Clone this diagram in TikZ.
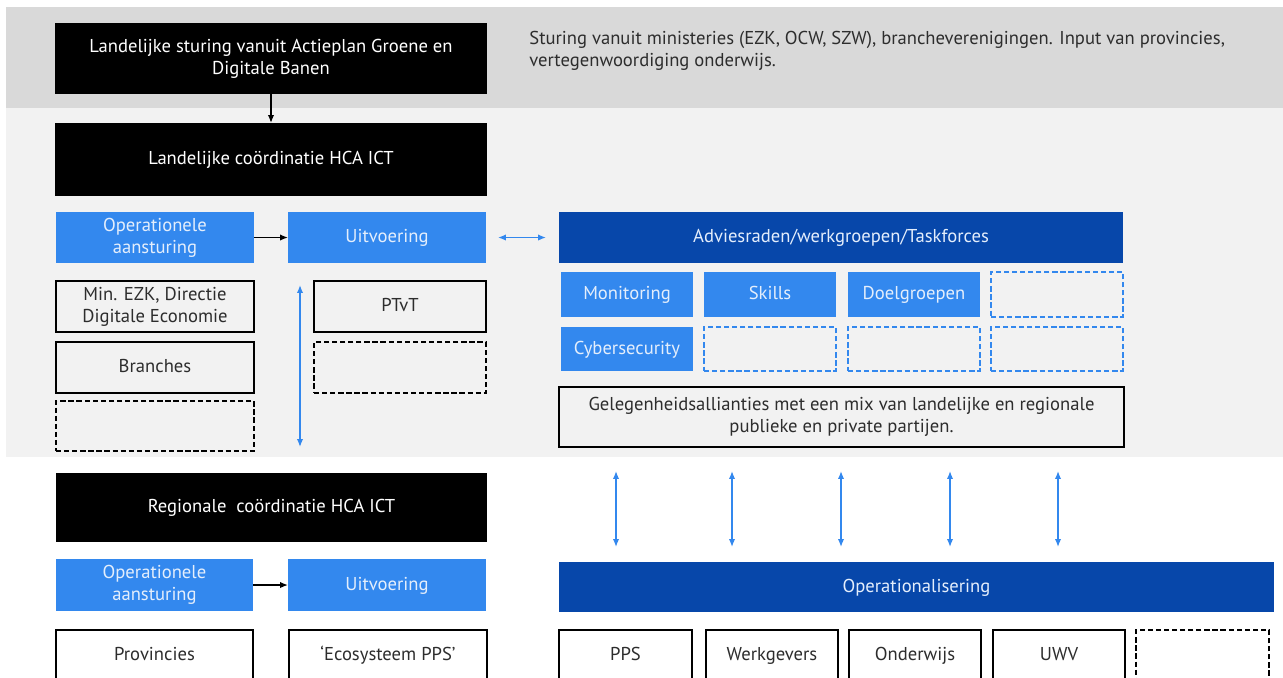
\documentclass[tikz,border=0pt]{standalone}
\usepackage{fontspec}
\setmainfont{PT Sans}
\usetikzlibrary{arrows.meta}

\definecolor{bandgrijs}{HTML}{D9D9D9}
\definecolor{bandlicht}{HTML}{F2F2F2}
\definecolor{hcablauw}{RGB}{51,136,238}
\definecolor{hcadonker}{RGB}{7,71,170}
\definecolor{tekstlicht}{RGB}{228,238,252}
\definecolor{tekstgrijs}{RGB}{45,45,45}

\tikzset{
  blok/.style={inner sep=0pt, outer sep=0pt, align=center},
  regel/.style={text height=1.55ex, text depth=0.4ex},
  maat/.style 2 args={minimum width=#1*0.02cm, minimum height=#2*0.02cm},
  zwartblok/.style={blok, fill=black, text=white},
  blauwblok/.style={blok, fill=hcablauw, text=tekstlicht},
  donkerblok/.style={blok, fill=hcadonker, text=tekstlicht},
  lijnblok/.style={blok, draw=black, line width=0.9pt, text=tekstgrijs},
  stippelblok/.style={blok, draw=black, line width=0.9pt, dash pattern=on 3pt off 1.6pt},
  blauwstippel/.style={blok, draw=hcablauw, line width=0.9pt, dash pattern=on 3pt off 1.6pt},
  zwartpijl/.style={line width=0.8pt, -{Latex[length=4.5pt,width=3.6pt]}},
  blauwpijl/.style={draw=hcablauw, line width=0.8pt, {Latex[length=4.5pt,width=3.6pt]}-{Latex[length=4.5pt,width=3.6pt]}},
}

\begin{document}
\begin{tikzpicture}[x=0.02cm, y=-0.02cm]
                \useasboundingbox (0,0) rectangle (1283,677);
                {\fontsize{10.6}{12.5}\selectfont

                % Drawing bands
                \fill [bandgrijs] (6,7) rectangle (1283,108);
                \fill [bandlicht] (6,108) rectangle (1283,457);

                % Drawing national steering
                \node [zwartblok, maat={432}{71}] (sturing) at (271,58.5) {Landelijke sturing vanuit Actieplan Groene en\\Digitale Banen};
                \node [anchor=west, align=left, inner sep=0pt, text=tekstgrijs] (toelichting) at (529,51) {Sturing vanuit ministeries (EZK, OCW, SZW), brancheverenigingen. Input van provincies,\\vertegenwoordiging onderwijs.};

                % Drawing national coordination
                \node [zwartblok, regel, maat={432}{73}] (landcoord) at (271,159.5) {Landelijke coördinatie HCA ICT};
                \draw [zwartpijl] (sturing) -- (landcoord);

                % Drawing row operational / execution
                \node [blauwblok, maat={198}{51}] (opsturing) at (155,237.5) {Operationele\\aansturing};
                \node [blauwblok, regel, maat={198}{51}] (uitvoering) at (387,237.5) {Uitvoering};
                \node [donkerblok, regel, maat={564}{51}] (advies) at (841,237.5) {Adviesraden/werkgroepen/Taskforces};
                \draw [zwartpijl] (opsturing) -- (uitvoering);
                \draw [blauwpijl, shorten <=0.24cm, shorten >=0.26cm] (uitvoering) -- (advies);

                % Drawing national parties
                \node [lijnblok, maat={198}{51}] (minezk) at (155,306.5) {Min. EZK, Directie\\Digitale Economie};
                \node [lijnblok, regel, maat={198}{51}] (branches) at (155,367.5) {Branches};
                \node [stippelblok, maat={198}{50}] (leeglinks) at (155,426) {};
                \node [lijnblok, regel, maat={172}{51}] (ptvt) at (400,306.5) {PTvT};
                \node [stippelblok, maat={172}{51}] (leegmidden) at (400,367.5) {};

                % Drawing arrow national - regional
                \coordinate (landboven) at (300,285);
                \coordinate (landonder) at (300,447);
                \draw [blauwpijl] (landboven) -- (landonder);

                % Drawing taskforces
                \node [blauwblok, regel, maat={132}{45}] (monitoring) at (627,294.5) {Monitoring};
                \node [blauwblok, regel, maat={132}{45}] (skills) at (770,294.5) {Skills};
                \node [blauwblok, regel, maat={132}{45}] (doelgroepen) at (914,294.5) {Doelgroepen};
                \node [blauwstippel, maat={132}{45}] (leegtask1) at (1057,294.5) {};
                \node [blauwblok, regel, maat={132}{44}] (cyber) at (627,349) {Cybersecurity};
                \node [blauwstippel, maat={132}{44}] (leegtask2) at (770,349) {};
                \node [blauwstippel, maat={132}{44}] (leegtask3) at (914,349) {};
                \node [blauwstippel, maat={132}{44}] (leegtask4) at (1057,349) {};

                % Drawing alliances
                \node [lijnblok, maat={565}{60}] (allianties) at (841.5,417) {Gelegenheidsallianties met een mix van landelijke en regionale\\publieke en private partijen.};

                % Drawing arrows alliances - operationalisation
                \foreach \x [count=\i] in {616,732,841,950,1058} {
                  \coordinate (pijlboven\i) at (\x,471);
                  \coordinate (pijlonder\i) at (\x,547);
                  \draw [blauwpijl] (pijlboven\i) -- (pijlonder\i);
                }

                % Drawing regional coordination
                \node [zwartblok, regel, maat={431}{69}] (regcoord) at (271.5,507.5) {Regionale\ \ coördinatie HCA ICT};
                \node [blauwblok, maat={197}{52}] (opsturing2) at (154.5,585) {Operationele\\aansturing};
                \node [blauwblok, regel, maat={198}{52}] (uitvoering2) at (387,585) {Uitvoering};
                \draw [zwartpijl] (opsturing2) -- (uitvoering2);

                % Drawing operationalisation
                \node [donkerblok, regel, maat={715}{50}] (operationalisering) at (916.5,587) {Operationalisering};

                % Drawing regional parties
                \node [lijnblok, regel, fill=white, maat={197}{50}] (provincies) at (154.5,655) {Provincies};
                \node [lijnblok, regel, fill=white, maat={198}{50}] (ecosysteem) at (388,655) {‘Ecosysteem PPS’};
                \node [lijnblok, regel, fill=white, maat={133}{50}] (pps) at (625.5,655) {PPS};
                \node [lijnblok, regel, fill=white, maat={132}{50}] (werkgevers) at (772,655) {Werkgevers};
                \node [lijnblok, regel, fill=white, maat={132}{50}] (onderwijs) at (915,655) {Onderwijs};
                \node [lijnblok, regel, fill=white, maat={132}{50}] (uwv) at (1059,655) {UWV};
                \node [stippelblok, fill=white, maat={133}{50}] (leegrechts) at (1202.5,655) {};
                }
\end{tikzpicture}
\end{document}
